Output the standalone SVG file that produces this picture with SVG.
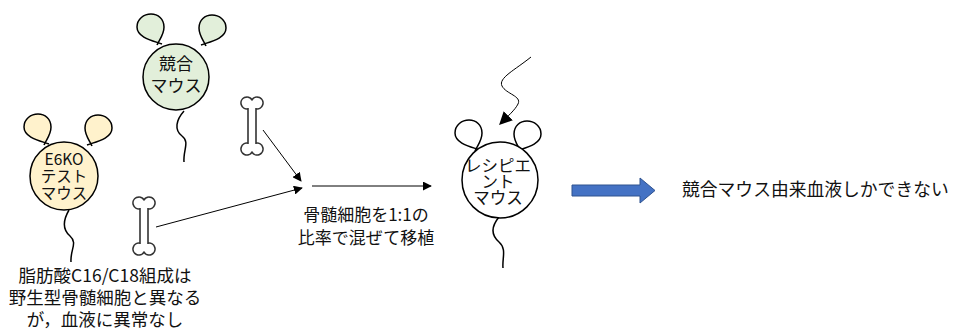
<svg xmlns="http://www.w3.org/2000/svg" width="953" height="332" viewBox="0 0 953 332">
  <style>
    .ln { fill: none; stroke: #000; stroke-width: 1.5; }
    .head { stroke: #000; stroke-width: 1.5; }
    .bone { fill: #fff; stroke: #333; stroke-width: 1.6; }
    .conn { stroke: #000; stroke-width: 1; fill: none; }
    .t { font-family: "Noto Sans CJK JP", "Noto Sans", sans-serif; fill: #111; text-anchor: middle; }
    .green { fill: #E2EFDA; }
    .yellow { fill: #FFF2CC; }
    .white { fill: #fff; }
  </style>
  <defs>
    <!-- ear loop, pinched base at origin, round lobe above and to the left -->
    <path id="ear" d="M2,0 C-6,-3 -23,-6 -23,-17 C-23,-25 -16,-30 -9,-30 C-2,-30 4,-25 4,-17 C4,-9 -1,-4 -3,1"/>
    <!-- outlined bone, centred at origin -->
    <path id="bone" d="M-4,-17.1 A6,6 0 1 1 0,-26.3 A6,6 0 1 1 4,-17.1 L4,17.1 A6,6 0 1 1 0,26.3 A6,6 0 1 1 -4,17.1 Z"/>
    <marker id="arr" viewBox="0 0 10 10" refX="9" refY="5" markerWidth="9" markerHeight="9" markerUnits="userSpaceOnUse" orient="auto">
      <path d="M0,0 L10,5 L0,10 Z" fill="#000"/>
    </marker>
    <marker id="arrBig" viewBox="0 0 10 10" refX="9" refY="5" markerWidth="13" markerHeight="13" markerUnits="userSpaceOnUse" orient="auto">
      <path d="M0,0 L10,5 L0,10 Z" fill="#000"/>
    </marker>
  </defs>

  <!-- competitor mouse -->
  <g id="competitor-mouse">
    <use href="#ear" class="head green" transform="translate(160,44)"/>
    <use href="#ear" class="head green" transform="translate(203,45) scale(-1,1)"/>
    <path class="ln" d="M184,111 C176,120 174,130 182,136 C190,142 183,150 184,162"/>
    <circle class="head green" cx="176" cy="77" r="33"/>
    <text class="t" font-size="17"><tspan x="176" y="70">競合</tspan><tspan x="176" y="92">マウス</tspan></text>
  </g>

  <!-- E6KO test mouse -->
  <g id="e6ko-mouse">
    <use href="#ear" class="head yellow" transform="translate(47,144)"/>
    <use href="#ear" class="head yellow" transform="translate(89,145) scale(-1,1)"/>
    <path class="ln" d="M69,210 C62,222 63,230 70,236 C78,243 70,250 71,262"/>
    <circle class="head yellow" cx="64" cy="176" r="34"/>
    <text class="t" font-size="15.5"><tspan x="64" y="165">E6KO</tspan><tspan x="64" y="182">テスト</tspan><tspan x="64" y="199">マウス</tspan></text>
  </g>

  <!-- recipient mouse -->
  <g id="recipient-mouse">
    <use href="#ear" class="head white" transform="translate(478,150)"/>
    <use href="#ear" class="head white" transform="translate(518,151) scale(-1,1)"/>
    <path class="ln" d="M499,217 C490,228 492,236 499,242 C507,249 502,258 503,268"/>
    <circle class="head white" cx="500" cy="180" r="38"/>
    <text class="t" font-size="16.5"><tspan x="498" y="172">レシピエ</tspan><tspan x="498" y="188">ント</tspan><tspan x="498" y="204">マウス</tspan></text>
  </g>

  <!-- bone marrow donors -->
  <g id="bone-competitor">
    <use href="#bone" class="bone" transform="translate(252,126)"/>
  </g>
  <g id="bone-e6ko">
    <use href="#bone" class="bone" transform="translate(144,226)"/>
  </g>

  <!-- connectors -->
  <g id="connectors">
    <path class="conn" d="M263,130 L301,181" marker-end="url(#arr)"/>
    <path class="conn" d="M156,227 L302,188" marker-end="url(#arr)"/>
    <path class="conn" d="M312,186 L431,186" marker-end="url(#arr)"/>
    <path class="conn" stroke-width="1.5" d="M531,57 C515,70 498,78 502,86 C506,94 522,96 518,104 C515,110 508,116 500,124" marker-end="url(#arrBig)"/>
    <polygon points="572,185 640,185 640,178 655,190.5 640,203 640,196 572,196" fill="#4472C4" stroke="#2F528F" stroke-width="1"/>
  </g>

  <!-- labels -->
  <g id="label-transplant">
    <text class="t" font-size="17"><tspan x="366" y="221">骨髄細胞を1:1の</tspan><tspan x="366" y="244">比率で混ぜて移植</tspan></text>
  </g>
  <g id="label-e6ko">
    <text class="t" font-size="17.5"><tspan x="105" y="282">脂肪酸C16/C18組成は</tspan><tspan x="105" y="304">野生型骨髄細胞と異なる</tspan><tspan x="105" y="326">が，血液に異常なし</tspan></text>
  </g>
  <g id="label-result">
    <text class="t" font-size="17.8" style="text-anchor:start" x="682" y="196">競合マウス由来血液しかできない</text>
  </g>
</svg>
